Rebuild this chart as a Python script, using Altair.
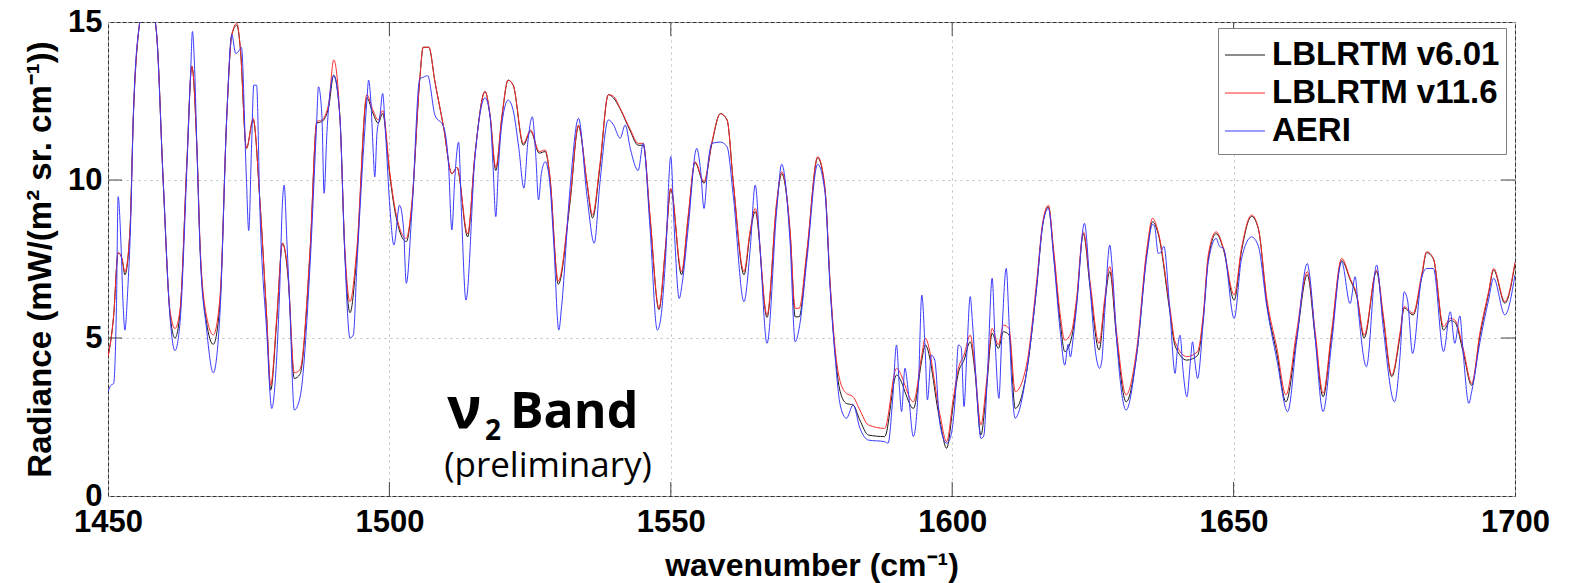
import altair as alt
import pandas as pd

# ---------------- data ----------------
model_wn = [1450.0, 1451.0, 1451.8, 1452.5, 1453.0, 1453.9, 1454.5, 1455.5, 1456.5, 1457.5,
            1458.6, 1459.8, 1461.0, 1461.9, 1462.8, 1464.0, 1464.9, 1465.8, 1466.4, 1467.5,
            1468.7, 1469.9, 1471.1, 1472.0, 1472.9, 1473.5, 1474.6, 1475.8, 1477.0, 1478.2,
            1478.9, 1480.0, 1481.0, 1482.0, 1483.1, 1484.1, 1485.9, 1487.1, 1488.0, 1489.2,
            1490.1, 1491.2, 1492.1, 1493.0, 1494.2, 1496.0, 1497.1, 1498.0, 1498.8, 1500.1,
            1501.0, 1503.0, 1504.0, 1505.4, 1506.0, 1507.0, 1508.1, 1509.6, 1511.1, 1512.0,
            1513.9, 1515.2, 1517.0, 1517.9, 1518.9, 1520.0, 1521.1, 1522.0, 1523.8, 1525.1,
            1526.6, 1527.7, 1528.5, 1530.0, 1532.1, 1533.6, 1535.1, 1536.1, 1537.4, 1538.9,
            1539.8, 1541.0, 1542.8, 1544.2, 1545.1, 1546.3, 1547.9, 1549.0, 1550.0, 1551.9,
            1553.1, 1554.3, 1555.9, 1557.3, 1558.8, 1560.0, 1561.1, 1563.0, 1564.1, 1565.0,
            1567.1, 1568.8, 1569.7, 1571.2, 1572.1, 1572.8, 1574.2, 1576.1, 1577.4, 1578.3,
            1579.2, 1580.1, 1581.2, 1582.4, 1583.6, 1585.1, 1588.0, 1590.1, 1591.0, 1591.6,
            1593.1, 1594.6, 1595.2, 1597.8, 1599.0, 1600.2, 1601.1, 1602.1, 1603.2, 1604.0,
            1605.1, 1606.1, 1607.1, 1608.2, 1609.1, 1610.1, 1611.2, 1613.2, 1615.0, 1616.1,
            1617.1, 1618.0, 1619.2, 1620.0, 1621.2, 1622.1, 1623.3, 1624.5, 1626.1, 1627.1,
            1628.0, 1629.2, 1630.9, 1632.8, 1634.6, 1635.6, 1636.6, 1638.7, 1639.6, 1641.7,
            1643.6, 1644.6, 1645.5, 1646.9, 1648.2, 1650.1, 1651.4, 1653.2, 1654.4, 1655.9,
            1657.7, 1659.3, 1661.2, 1663.1, 1664.5, 1665.9, 1667.4, 1669.2, 1670.7, 1671.9,
            1673.2, 1675.4, 1676.6, 1678.1, 1679.6, 1680.3, 1681.9, 1683.4, 1684.3, 1685.5,
            1687.3, 1688.5, 1689.3, 1690.8, 1692.3, 1693.8, 1695.3, 1696.2, 1698.2, 1700.0]

lblrtm_v116 = [4.4, 5.7, 7.7, 7.5, 7.1, 8.4, 12.0, 14.8, 15.6, 15.6,
               14.7, 10.0, 5.9, 5.3, 5.9, 10.5, 13.6, 11.0, 7.8, 5.7,
               5.1, 6.3, 12.0, 14.6, 14.96, 14.2, 11.0, 11.95, 9.3, 5.7,
               3.5, 5.7, 8.0, 7.0, 3.9, 4.0, 7.8, 11.85, 11.9, 12.4,
               13.8, 12.0, 7.8, 6.15, 7.8, 12.7, 12.2, 11.9, 12.2, 10.2,
               9.1, 8.15, 9.3, 13.2, 14.2, 14.2, 13.1, 11.7, 10.2, 10.4,
               8.3, 10.8, 12.8, 12.05, 10.4, 12.05, 13.16, 13.0, 11.16, 11.58,
               10.9, 10.95, 10.16, 6.8, 9.4, 11.74, 9.95, 8.9, 10.5, 12.7,
               12.65, 12.27, 11.6, 11.16, 11.16, 8.9, 5.94, 7.8, 9.74, 7.1,
               8.9, 10.58, 9.95, 11.2, 12.1, 11.9, 9.95, 7.1, 8.4, 9.1,
               5.73, 9.3, 10.26, 8.4, 5.94, 5.94, 7.8, 10.74, 9.74, 6.78,
               4.67, 3.62, 3.25, 3.14, 2.72, 2.25, 2.14, 4.04, 3.8, 3.5,
               2.98, 4.46, 4.99, 2.6, 1.72, 3.09, 4.04, 4.46, 5.09, 4.14,
               2.25, 3.62, 5.3, 4.78, 5.41, 5.3, 3.3, 4.14, 6.78, 8.68,
               9.2, 7.84, 5.73, 4.93, 5.2, 6.25, 8.36, 6.78, 4.83, 6.25,
               7.26, 5.2, 3.2, 4.67, 7.84, 8.79, 8.36, 5.94, 4.88, 4.41,
               4.57, 5.73, 7.63, 8.36, 7.84, 6.36, 7.84, 8.89, 8.47, 6.25,
               4.67, 3.2, 5.2, 7.1, 5.2, 3.25, 5.2, 7.52, 6.89, 6.36,
               5.09, 7.15, 5.73, 3.83, 5.2, 5.99, 5.78, 7.0, 7.73, 7.52,
               5.36, 5.62, 5.57, 4.67, 3.57, 5.2, 6.46, 7.2, 6.15, 7.4]

lblrtm_v601 = [4.4, 5.7, 7.7, 7.5, 7.0, 8.4, 12.0, 14.8, 15.6, 15.6,
               14.7, 10.0, 5.8, 5.0, 5.8, 10.5, 13.6, 11.0, 7.7, 5.5,
               4.8, 6.1, 12.0, 14.6, 14.9, 14.2, 11.0, 11.9, 9.3, 5.6,
               3.35, 5.6, 8.0, 6.9, 3.72, 3.85, 7.7, 11.8, 11.85, 12.3,
               13.32, 12.0, 7.6, 5.8, 7.6, 12.6, 12.1, 11.8, 12.1, 10.1,
               9.0, 8.05, 9.2, 13.2, 14.2, 14.2, 13.1, 11.7, 10.2, 10.4,
               8.2, 10.8, 12.8, 12.0, 10.3, 12.0, 13.16, 13.0, 11.1, 11.55,
               10.85, 10.9, 10.1, 6.7, 9.3, 11.7, 9.9, 8.8, 10.4, 12.7,
               12.6, 12.25, 11.55, 11.1, 11.1, 8.8, 5.9, 7.7, 9.7, 7.0,
               8.8, 10.55, 9.9, 11.15, 12.1, 11.9, 9.9, 7.0, 8.3, 9.0,
               5.65, 9.2, 10.2, 8.3, 5.67, 5.67, 7.7, 10.7, 9.7, 6.7,
               4.5, 3.3, 2.93, 2.88, 2.4, 1.93, 1.88, 3.83, 3.6, 3.3,
               2.77, 4.3, 4.78, 2.4, 1.51, 2.9, 3.9, 4.3, 4.88, 4.0,
               1.93, 3.4, 5.15, 4.67, 5.2, 5.1, 2.77, 3.9, 6.6, 8.6,
               9.15, 7.7, 5.5, 4.57, 5.0, 6.1, 8.3, 6.6, 4.62, 6.1,
               7.1, 5.0, 2.98, 4.5, 7.7, 8.68, 8.3, 5.8, 4.75, 4.3,
               4.45, 5.6, 7.5, 8.3, 7.8, 6.2, 7.75, 8.85, 8.45, 6.1,
               4.5, 2.98, 5.0, 7.0, 5.0, 3.14, 5.05, 7.45, 6.85, 6.3,
               5.0, 7.1, 5.6, 3.78, 5.1, 5.95, 5.73, 6.9, 7.7, 7.5,
               5.25, 5.55, 5.5, 4.55, 3.5, 5.1, 6.4, 7.15, 6.1, 7.35]

aeri_wn = [1450.0, 1450.5, 1451.0, 1451.5, 1451.8, 1452.3, 1452.7, 1453.0, 1453.5, 1454.0,
           1454.5, 1455.5, 1456.2, 1457.5, 1458.4, 1459.8, 1461.0, 1461.9, 1462.8, 1464.0,
           1464.7, 1465.0, 1465.4, 1465.8, 1466.4, 1467.5, 1468.7, 1469.9, 1471.1, 1472.0,
           1472.7, 1473.3, 1473.7, 1474.6, 1475.0, 1475.5, 1475.9, 1476.4, 1477.0, 1478.2,
           1479.1, 1479.7, 1480.5, 1481.0, 1481.3, 1481.8, 1482.3, 1483.1, 1484.1, 1485.9,
           1487.0, 1487.4, 1488.0, 1488.4, 1488.9, 1489.2, 1490.1, 1491.2, 1492.0, 1493.0,
           1493.6, 1494.2, 1496.0, 1496.3, 1496.7, 1497.1, 1497.4, 1497.8, 1498.3, 1498.8,
           1499.3, 1500.1, 1500.8, 1501.8, 1502.5, 1503.0, 1504.0, 1505.4, 1506.0, 1506.8,
           1508.1, 1509.6, 1510.5, 1511.1, 1511.6, 1512.3, 1512.8, 1513.6, 1515.2, 1517.0,
           1517.9, 1518.4, 1518.9, 1519.4, 1520.0, 1521.1, 1522.0, 1523.0, 1523.9, 1524.6,
           1525.4, 1526.0, 1526.5, 1527.0, 1527.7, 1528.5, 1529.2, 1530.1, 1530.6, 1532.1,
           1533.6, 1535.1, 1536.4, 1537.4, 1538.9, 1539.8, 1541.0, 1541.9, 1542.8, 1544.2,
           1545.1, 1546.3, 1547.6, 1548.2, 1549.0, 1550.0, 1550.6, 1551.5, 1552.0, 1553.1,
           1554.6, 1555.3, 1555.9, 1556.6, 1557.3, 1558.8, 1560.0, 1561.1, 1563.0, 1564.1,
           1565.0, 1565.8, 1567.1, 1568.8, 1569.7, 1571.2, 1572.1, 1572.8, 1574.2, 1576.1,
           1577.4, 1578.3, 1579.2, 1580.1, 1581.2, 1582.4, 1583.6, 1585.1, 1588.0, 1588.6,
           1589.4, 1590.1, 1590.6, 1591.0, 1591.6, 1592.2, 1593.1, 1594.0, 1594.6, 1595.2,
           1595.6, 1596.3, 1596.9, 1597.8, 1599.0, 1599.6, 1600.5, 1601.1, 1601.6, 1602.1,
           1602.6, 1603.2, 1603.6, 1604.3, 1605.1, 1605.6, 1606.3, 1607.1, 1607.6, 1608.3,
           1608.8, 1609.6, 1610.1, 1610.6, 1611.2, 1611.7, 1613.2, 1615.0, 1616.1, 1617.1,
           1618.0, 1619.2, 1620.0, 1620.6, 1621.0, 1621.5, 1622.1, 1623.5, 1624.5, 1625.5,
           1626.2, 1626.6, 1627.1, 1628.0, 1628.4, 1629.2, 1630.9, 1632.8, 1634.6, 1635.6,
           1636.0, 1636.6, 1637.0, 1637.6, 1638.7, 1639.6, 1640.0, 1640.5, 1641.0, 1641.7,
           1642.3, 1642.7, 1643.1, 1643.6, 1644.6, 1645.5, 1646.9, 1647.5, 1648.2, 1650.1,
           1651.4, 1653.2, 1654.4, 1655.9, 1657.7, 1659.6, 1661.2, 1663.1, 1663.5, 1664.5,
           1665.9, 1667.4, 1669.2, 1670.7, 1671.6, 1672.2, 1673.6, 1675.4, 1676.6, 1678.6,
           1679.6, 1680.3, 1680.9, 1681.8, 1683.4, 1684.3, 1685.5, 1687.3, 1688.5, 1689.3,
           1690.2, 1690.8, 1691.8, 1692.3, 1693.8, 1695.3, 1696.2, 1698.2, 1700.0]

aeri = [3.3, 3.5, 3.56, 6.0, 9.47, 8.0, 6.0, 5.25, 6.5, 8.5,
        12.0, 14.8, 15.3, 15.3, 15.0, 10.0, 5.7, 4.6, 5.5, 10.3,
        13.5, 14.7, 13.5, 11.0, 7.6, 5.3, 3.9, 5.8, 12.0, 14.6,
        14.0, 14.1, 14.2, 10.0, 8.4, 11.0, 13.0, 13.0, 9.0, 5.2,
        2.77, 3.6, 6.5, 9.3, 9.84, 8.0, 6.0, 2.72, 3.1, 7.3,
        11.5, 12.95, 12.05, 9.58, 11.5, 12.3, 13.3, 12.0, 8.0, 5.0,
        5.1, 7.2, 12.5, 13.16, 12.5, 11.0, 10.1, 11.5, 12.0, 12.74,
        11.5, 9.1, 7.94, 9.2, 8.5, 6.73, 9.0, 13.2, 13.25, 13.3,
        12.05, 11.7, 10.5, 8.42, 10.0, 11.2, 9.0, 6.2, 10.7, 12.6,
        12.0, 10.5, 8.84, 10.5, 11.8, 12.53, 12.2, 11.0, 9.74, 11.2,
        12.0, 10.8, 9.37, 10.2, 10.58, 9.9, 8.0, 5.25, 6.0, 9.74,
        11.95, 9.5, 8.0, 9.9, 11.9, 11.75, 11.32, 11.74, 11.0, 10.3,
        11.16, 8.5, 5.25, 5.6, 7.3, 10.74, 8.5, 6.25, 6.7, 8.5,
        11.0, 10.3, 9.1, 10.5, 11.16, 11.2, 11.05, 9.5, 6.15, 7.8,
        9.84, 8.0, 4.83, 9.0, 10.5, 8.0, 4.88, 5.3, 7.5, 10.5,
        9.6, 6.6, 4.4, 2.88, 2.46, 2.88, 2.15, 1.77, 1.72, 1.67,
        3.0, 4.78, 3.5, 2.67, 4.04, 3.3, 1.88, 3.5, 6.36, 4.6,
        3.04, 4.46, 4.3, 2.3, 1.67, 1.8, 3.0, 4.78, 4.7, 2.83,
        4.5, 6.31, 5.5, 3.5, 1.82, 1.9, 4.0, 6.89, 5.0, 3.09,
        5.0, 7.2, 5.5, 3.5, 2.46, 2.6, 3.9, 6.6, 8.6, 9.1,
        7.6, 5.2, 4.14, 4.8, 4.4, 5.0, 6.0, 8.63, 6.6, 4.5,
        4.04, 4.3, 5.8, 7.94, 7.3, 5.0, 2.72, 4.5, 7.6, 8.6,
        8.5, 7.68, 7.7, 7.9, 5.8, 3.88, 4.6, 5.09, 4.0, 3.14,
        4.2, 4.88, 4.3, 3.72, 5.5, 7.4, 8.15, 7.9, 7.84, 5.62,
        7.5, 8.2, 7.9, 6.0, 4.3, 2.67, 4.9, 7.36, 7.0, 5.0,
        2.67, 4.8, 7.41, 6.09, 6.94, 5.8, 4.09, 7.31, 5.3, 2.98,
        4.5, 6.46, 6.2, 4.51, 6.9, 7.2, 7.2, 4.57, 5.83, 4.83,
        5.7, 4.5, 2.93, 3.3, 4.9, 6.2, 6.89, 5.73, 7.0]

series_names = ["LBLRTM v6.01", "LBLRTM v11.6", "AERI"]
series_colors = ["#1a1a1a", "#ff2a2a", "#3a3aff"]
x_tick_values = [1450, 1500, 1550, 1600, 1650, 1700]
y_tick_values = [0, 5, 10, 15]
x_inner_ticks = [1500, 1550, 1600, 1650]
y_inner_ticks = [5, 10]
band_symbol = "ν"
band_sub = "2"
band_word = "Band"
band_note = "(preliminary)"
x_title = "wavenumber (cm⁻¹)"
y_title = "Radiance (mW/(m² sr. cm⁻¹))"

# ---------------- tables ----------------
df601 = pd.DataFrame({"wn": model_wn, "val": lblrtm_v601, "series": series_names[0]})
df116 = pd.DataFrame({"wn": model_wn, "val": lblrtm_v116, "series": series_names[1]})
dfaeri = pd.DataFrame({"wn": aeri_wn, "val": aeri, "series": series_names[2]})

W, H = 1407, 474
FONT = "Liberation Sans"

x_scale = alt.Scale(domain=[1450, 1700], nice=False, zero=False)
y_scale = alt.Scale(domain=[0, 15], nice=False)

x_axis = alt.Axis(values=x_tick_values, format="d", title=x_title, grid=True,
                  gridDash=[2, 4], gridColor="#bdbdbd", gridWidth=1,
                  ticks=False, tickSize=0, domain=False, labelFlush=False,
                  labelFont=FONT, labelFontSize=31, labelFontWeight="bold",
                  labelColor="#000", labelPadding=11,
                  titleFont=FONT, titleFontSize=32, titleFontWeight="bold",
                  titleColor="#000", titleY=79, titleBaseline="alphabetic")
y_axis = alt.Axis(values=y_tick_values, format="d", title=y_title, grid=True,
                  gridDash=[2, 4], gridColor="#bdbdbd", gridWidth=1,
                  ticks=False, tickSize=0, domain=False,
                  labelFont=FONT, labelFontSize=31, labelFontWeight="bold",
                  labelColor="#000", labelPadding=6,
                  titleFont=FONT, titleFontSize=33, titleFontWeight="bold",
                  titleColor="#000", titleX=-68, titleBaseline="middle",
                  titleAngle=270)

color = alt.Color("series:N",
                  scale=alt.Scale(domain=series_names, range=series_colors),
                  legend=alt.Legend(orient="none", legendX=1110, legendY=6,
                                    title=None, symbolType="stroke",
                                    symbolSize=1600, symbolStrokeWidth=1.2,
                                    labelFont=FONT, labelFontSize=33,
                                    labelFontWeight="bold", labelColor="#000",
                                    labelOffset=6, labelLimit=500,
                                    padding=6, rowPadding=-1,
                                    strokeColor="#808080", fillColor="white"))


def line_layer(df):
    return alt.Chart(df).mark_line(strokeWidth=1.0, clip=True,
                                   interpolate="monotone").encode(
        x=alt.X("wn:Q", scale=x_scale, axis=x_axis),
        y=alt.Y("val:Q", scale=y_scale, axis=y_axis),
        color=color,
        order=alt.Order("wn:Q"),
    )


lines = [line_layer(df601), line_layer(df116), line_layer(dfaeri)]

tick_color = "#444"
xt = pd.DataFrame({"wn": x_inner_ticks})
yt = pd.DataFrame({"val": y_inner_ticks})
xtick_bottom = alt.Chart(xt).mark_rule(color=tick_color, strokeWidth=1).encode(
    x=alt.X("wn:Q", scale=x_scale, axis=x_axis), y=alt.value(H), y2=alt.value(H - 14))
xtick_top = alt.Chart(xt).mark_rule(color=tick_color, strokeWidth=1).encode(
    x=alt.X("wn:Q", scale=x_scale, axis=x_axis), y=alt.value(0), y2=alt.value(14))
ytick_left = alt.Chart(yt).mark_rule(color=tick_color, strokeWidth=1).encode(
    y=alt.Y("val:Q", scale=y_scale, axis=y_axis), x=alt.value(0), x2=alt.value(14))
ytick_right = alt.Chart(yt).mark_rule(color=tick_color, strokeWidth=1).encode(
    y=alt.Y("val:Q", scale=y_scale, axis=y_axis), x=alt.value(W), x2=alt.value(W - 14))

ANNOT_FONT = "Open Sans"
t1 = alt.Chart(pd.DataFrame({"t": [band_symbol]})).mark_text(
    font=ANNOT_FONT, fontSize=58, fontWeight="bold", align="left",
    baseline="alphabetic", color="#000").encode(
    text="t:N", x=alt.value(339), y=alt.value(406))
t2 = alt.Chart(pd.DataFrame({"t": [band_sub]})).mark_text(
    font=ANNOT_FONT, fontSize=28, fontWeight="bold", align="left",
    baseline="alphabetic", color="#000").encode(
    text="t:N", x=alt.value(377), y=alt.value(418))
t3 = alt.Chart(pd.DataFrame({"t": [band_word]})).mark_text(
    font=ANNOT_FONT, fontSize=50, fontWeight="bold", align="left",
    baseline="alphabetic", color="#000").encode(
    text="t:N", x=alt.value(402), y=alt.value(406))
t4 = alt.Chart(pd.DataFrame({"t": [band_note]})).mark_text(
    font=ANNOT_FONT, fontSize=35, fontWeight="normal", align="center",
    baseline="alphabetic", color="#000").encode(
    text="t:N", x=alt.value(440), y=alt.value(455))

chart = alt.layer(
    *lines, xtick_bottom, xtick_top, ytick_left, ytick_right, t1, t2, t3, t4
).properties(
    width=W, height=H,
    autosize=alt.AutoSizeParams(type="none"),
    padding={"left": 108, "top": 22, "right": 55, "bottom": 87},
    background="white",
).configure_view(stroke="#333", strokeWidth=1)

chart.save("out.html", embed_options={"renderer": "svg", "actions": False})
